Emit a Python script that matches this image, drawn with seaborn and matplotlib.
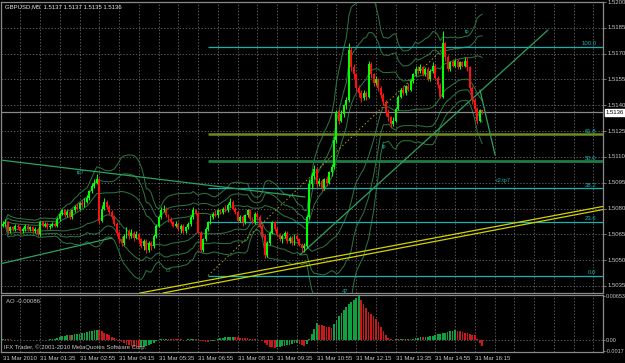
import numpy as np
import pandas as pd
import matplotlib
matplotlib.use("Agg")
import matplotlib.pyplot as plt
import matplotlib.transforms as mtransforms
import seaborn as sns

# ---------------- data (GBPUSD M5, 31 Mar 2010, 00:20 .. 16:30) ----------------
open_ = [1.5070,1.5071,1.5072,1.5067,1.5069,1.5068,1.5070,1.5069,1.5067,1.5068,
         1.5070,1.5068,1.5069,1.5067,1.5068,1.5065,1.5072,1.5070,1.5071,1.5069,
         1.5070,1.5071,1.5070,1.5074,1.5077,1.5079,1.5076,1.5078,1.5075,1.5079,
         1.5081,1.5080,1.5083,1.5082,1.5084,1.5086,1.5090,1.5093,1.5095,1.5097,
         1.5073,1.5080,1.5084,1.5081,1.5078,1.5075,1.5071,1.5066,1.5062,1.5060,
         1.5064,1.5067,1.5064,1.5066,1.5063,1.5065,1.5062,1.5058,1.5061,1.5056,
         1.5060,1.5058,1.5064,1.5070,1.5075,1.5079,1.5080,1.5076,1.5074,1.5072,
         1.5070,1.5071,1.5068,1.5070,1.5067,1.5069,1.5071,1.5075,1.5079,1.5077,
         1.5066,1.5056,1.5062,1.5068,1.5072,1.5075,1.5077,1.5076,1.5079,1.5078,
         1.5080,1.5079,1.5082,1.5084,1.5080,1.5078,1.5073,1.5075,1.5072,1.5076,
         1.5079,1.5074,1.5072,1.5077,1.5075,1.5070,1.5064,1.5053,1.5060,1.5066,
         1.5072,1.5068,1.5065,1.5062,1.5064,1.5066,1.5061,1.5063,1.5060,1.5064,
         1.5062,1.5059,1.5057,1.5058,1.5075,1.5094,1.5099,1.5103,1.5094,1.5096,
         1.5092,1.5097,1.5095,1.5101,1.5104,1.5120,1.5136,1.5131,1.5135,1.5140,
         1.5143,1.5172,1.5162,1.5158,1.5150,1.5147,1.5144,1.5147,1.5145,1.5164,
         1.5158,1.5153,1.5155,1.5150,1.5146,1.5142,1.5136,1.5133,1.5129,1.5131,
         1.5138,1.5145,1.5149,1.5147,1.5151,1.5149,1.5154,1.5158,1.5161,1.5160,
         1.5162,1.5158,1.5161,1.5155,1.5160,1.5163,1.5156,1.5152,1.5145,1.5176,
         1.5168,1.5161,1.5165,1.5163,1.5166,1.5162,1.5165,1.5163,1.5166,1.5162,
         1.5150,1.5143,1.5138,1.5131,1.5137]
high = [1.5073,1.5074,1.5073,1.5070,1.5070,1.5071,1.5071,1.5070,1.5069,1.5071,
        1.5071,1.5070,1.5070,1.5069,1.5069,1.5073,1.5073,1.5072,1.5072,1.5071,
        1.5072,1.5072,1.5075,1.5078,1.5080,1.5080,1.5079,1.5079,1.5080,1.5082,
        1.5083,1.5084,1.5085,1.5086,1.5088,1.5091,1.5095,1.5097,1.5100,1.5098,
        1.5082,1.5086,1.5085,1.5082,1.5079,1.5076,1.5072,1.5067,1.5064,1.5065,
        1.5069,1.5068,1.5068,1.5067,1.5067,1.5066,1.5063,1.5062,1.5062,1.5061,
        1.5061,1.5065,1.5071,1.5076,1.5081,1.5082,1.5081,1.5077,1.5075,1.5073,
        1.5073,1.5072,1.5071,1.5071,1.5070,1.5072,1.5076,1.5081,1.5080,1.5078,
        1.5067,1.5063,1.5069,1.5073,1.5076,1.5078,1.5079,1.5080,1.5080,1.5081,
        1.5082,1.5083,1.5086,1.5085,1.5081,1.5079,1.5076,1.5076,1.5077,1.5080,
        1.5080,1.5075,1.5078,1.5078,1.5076,1.5071,1.5065,1.5061,1.5067,1.5073,
        1.5073,1.5069,1.5066,1.5065,1.5067,1.5067,1.5064,1.5064,1.5065,1.5065,
        1.5063,1.5060,1.5060,1.5076,1.5097,1.5101,1.5105,1.5104,1.5098,1.5097,
        1.5098,1.5099,1.5102,1.5106,1.5122,1.5137,1.5138,1.5137,1.5141,1.5145,
        1.5176,1.5174,1.5164,1.5159,1.5152,1.5149,1.5149,1.5148,1.5166,1.5165,
        1.5159,1.5157,1.5156,1.5151,1.5147,1.5143,1.5138,1.5134,1.5133,1.5139,
        1.5146,1.5150,1.5151,1.5152,1.5153,1.5155,1.5159,1.5163,1.5163,1.5164,
        1.5163,1.5162,1.5162,1.5161,1.5165,1.5164,1.5157,1.5153,1.5183,1.5177,
        1.5169,1.5166,1.5167,1.5167,1.5167,1.5166,1.5166,1.5168,1.5168,1.5163,
        1.5151,1.5144,1.5139,1.5138,1.5137]
low = [1.5069,1.5070,1.5066,1.5066,1.5067,1.5067,1.5068,1.5066,1.5066,1.5067,
       1.5067,1.5067,1.5066,1.5066,1.5064,1.5064,1.5069,1.5069,1.5068,1.5068,
       1.5069,1.5069,1.5069,1.5073,1.5076,1.5075,1.5075,1.5074,1.5074,1.5078,
       1.5079,1.5079,1.5081,1.5081,1.5083,1.5085,1.5089,1.5092,1.5094,1.5071,
       1.5072,1.5079,1.5080,1.5077,1.5074,1.5070,1.5064,1.5060,1.5058,1.5059,
       1.5063,1.5062,1.5063,1.5061,1.5062,1.5060,1.5057,1.5056,1.5054,1.5055,
       1.5056,1.5057,1.5063,1.5069,1.5074,1.5078,1.5075,1.5072,1.5071,1.5069,
       1.5069,1.5067,1.5066,1.5066,1.5066,1.5068,1.5070,1.5074,1.5076,1.5065,
       1.5055,1.5055,1.5061,1.5067,1.5071,1.5074,1.5075,1.5075,1.5077,1.5077,
       1.5078,1.5078,1.5081,1.5079,1.5077,1.5072,1.5072,1.5070,1.5071,1.5075,
       1.5073,1.5071,1.5071,1.5074,1.5069,1.5063,1.5051,1.5052,1.5059,1.5065,
       1.5067,1.5064,1.5061,1.5060,1.5063,1.5060,1.5060,1.5059,1.5059,1.5061,
       1.5058,1.5055,1.5055,1.5057,1.5074,1.5092,1.5097,1.5092,1.5093,1.5090,
       1.5091,1.5093,1.5094,1.5099,1.5103,1.5118,1.5129,1.5130,1.5133,1.5138,
       1.5142,1.5160,1.5155,1.5148,1.5145,1.5142,1.5143,1.5143,1.5144,1.5156,
       1.5151,1.5152,1.5148,1.5144,1.5140,1.5134,1.5131,1.5127,1.5128,1.5130,
       1.5137,1.5144,1.5146,1.5146,1.5148,1.5148,1.5153,1.5157,1.5158,1.5159,
       1.5157,1.5157,1.5154,1.5154,1.5159,1.5155,1.5150,1.5144,1.5144,1.5166,
       1.5160,1.5160,1.5162,1.5162,1.5161,1.5161,1.5162,1.5162,1.5160,1.5148,
       1.5141,1.5136,1.5129,1.5130,1.5135]
close = [1.5071,1.5072,1.5067,1.5069,1.5068,1.5070,1.5069,1.5067,1.5068,1.5070,
         1.5068,1.5069,1.5067,1.5068,1.5065,1.5072,1.5070,1.5071,1.5069,1.5070,
         1.5071,1.5070,1.5074,1.5077,1.5079,1.5076,1.5078,1.5075,1.5079,1.5081,
         1.5080,1.5083,1.5082,1.5084,1.5086,1.5090,1.5093,1.5095,1.5097,1.5073,
         1.5080,1.5084,1.5081,1.5078,1.5075,1.5071,1.5066,1.5062,1.5060,1.5064,
         1.5067,1.5064,1.5066,1.5063,1.5065,1.5062,1.5058,1.5061,1.5056,1.5060,
         1.5058,1.5064,1.5070,1.5075,1.5079,1.5080,1.5076,1.5074,1.5072,1.5070,
         1.5071,1.5068,1.5070,1.5067,1.5069,1.5071,1.5075,1.5079,1.5077,1.5066,
         1.5056,1.5062,1.5068,1.5072,1.5075,1.5077,1.5076,1.5079,1.5078,1.5080,
         1.5079,1.5082,1.5084,1.5080,1.5078,1.5073,1.5075,1.5072,1.5076,1.5079,
         1.5074,1.5072,1.5077,1.5075,1.5070,1.5064,1.5053,1.5060,1.5066,1.5072,
         1.5068,1.5065,1.5062,1.5064,1.5066,1.5061,1.5063,1.5060,1.5064,1.5062,
         1.5059,1.5057,1.5058,1.5075,1.5094,1.5099,1.5103,1.5094,1.5096,1.5092,
         1.5097,1.5095,1.5101,1.5104,1.5120,1.5136,1.5131,1.5135,1.5140,1.5143,
         1.5172,1.5162,1.5158,1.5150,1.5147,1.5144,1.5147,1.5145,1.5164,1.5158,
         1.5153,1.5155,1.5150,1.5146,1.5142,1.5136,1.5133,1.5129,1.5131,1.5138,
         1.5145,1.5149,1.5147,1.5151,1.5149,1.5154,1.5158,1.5161,1.5160,1.5162,
         1.5158,1.5161,1.5155,1.5160,1.5163,1.5156,1.5152,1.5145,1.5176,1.5168,
         1.5161,1.5165,1.5163,1.5166,1.5162,1.5165,1.5163,1.5166,1.5162,1.5150,
         1.5143,1.5138,1.5131,1.5137,1.5136]
ao_values = [0.00010,0.00012,0.00010,0.00008,0.00005,0.00003,0.00004,0.00006,0.00005,0.00003,
             0.00001,-0.00002,-0.00001,0.00002,0.00001,0.00004,0.00006,0.00005,0.00007,0.00009,
             0.00015,0.00022,0.00030,0.00042,0.00055,0.00062,0.00070,0.00068,0.00075,0.00082,
             0.00090,0.00095,0.00100,0.00108,0.00120,0.00128,0.00138,0.00145,0.00150,0.00142,
             0.00128,0.00110,0.00090,0.00070,0.00050,0.00030,0.00010,-0.00010,-0.00030,-0.00050,
             -0.00070,-0.00080,-0.00090,-0.00100,-0.00105,-0.00110,-0.00105,-0.00100,-0.00095,-0.00080,
             -0.00060,-0.00040,-0.00020,0.00000,0.00010,0.00018,0.00022,0.00020,0.00018,0.00016,
             0.00012,0.00010,0.00008,0.00005,0.00006,0.00008,0.00010,0.00015,0.00014,0.00006,
             -0.00010,-0.00020,-0.00028,-0.00030,-0.00022,-0.00010,0.00005,0.00015,0.00025,0.00032,
             0.00038,0.00045,0.00050,0.00052,0.00048,0.00040,0.00035,0.00030,0.00028,0.00025,
             0.00020,0.00012,0.00010,0.00005,0.00000,-0.00020,-0.00050,-0.00080,-0.00100,-0.00110,
             -0.00120,-0.00110,-0.00100,-0.00095,-0.00090,-0.00080,-0.00070,-0.00060,-0.00050,-0.00040,
             -0.00060,-0.00080,-0.00090,-0.00060,0.00020,0.00090,0.00170,0.00250,0.00230,0.00220,
             0.00210,0.00200,0.00190,0.00180,0.00240,0.00300,0.00350,0.00400,0.00450,0.00490,
             0.00530,0.00560,0.00590,0.00620,0.00653,0.00600,0.00540,0.00470,0.00410,0.00390,
             0.00350,0.00310,0.00260,0.00200,0.00140,0.00080,0.00030,0.00010,0.00005,0.00010,
             0.00008,0.00012,0.00010,0.00015,0.00020,0.00018,0.00022,0.00030,0.00035,0.00040,
             0.00038,0.00045,0.00050,0.00055,0.00060,0.00070,0.00085,0.00090,0.00100,0.00110,
             0.00120,0.00130,0.00140,0.00150,0.00140,0.00130,0.00120,0.00110,0.00100,0.00090,
             0.00080,0.00070,0.00020,-0.00040,-0.00086]

price_ticks = [1.5200, 1.5185, 1.5170, 1.5155, 1.5140, 1.5125, 1.5110, 1.5095,
               1.5080, 1.5065, 1.5050, 1.5035]
x_tick_bars = [0, 15, 31, 47, 63, 79, 95, 111, 127, 143, 159, 175, 191]
x_tick_labels = ["31 Mar 2010", "31 Mar 01:35", "31 Mar 02:55", "31 Mar 04:15",
                 "31 Mar 05:35", "31 Mar 06:55", "31 Mar 08:15", "31 Mar 09:35",
                 "31 Mar 10:55", "31 Mar 12:15", "31 Mar 13:35", "31 Mar 14:55",
                 "31 Mar 16:15"]
grid_bars = [7, 15, 23, 31, 39, 47, 55, 63, 71, 79, 87, 95, 103, 111, 119, 127, 135,
             143, 151, 159, 167, 175, 183, 191, 199, 207, 215, 223, 231, 239]

fib_levels = [0.0, 23.6, 38.2, 50.0, 61.8, 100.0]
fib_low, fib_high = 1.5041, 1.5174
fib_start_bar, fib_end_bar = 83, 179
bid_price = 1.5136
bb_period = 20
bb_devs = [1, 2, 3]

# drawn objects: (bar, price) anchors
yellow_line_1 = [(55.5, 1.50309), (242.9, 1.50812)]
yellow_line_2 = [(64.8, 1.50309), (242.9, 1.50794)]
green_line_1 = [(-1.2, 1.51082), (122.3, 1.50867)]
green_line_2 = [(-1.2, 1.50478), (44.1, 1.50629)]
green_line_3 = [(120.2, 1.50530), (220.6, 1.51837)]
green_line_4 = [(193.1, 1.51489), (199.2, 1.51111)]
note_texts = ["tp7", "c7", "tp", "tp", "c2.tp7", "47"]
note_bars = [31.5, 67.0, 154.5, 188.0, 202.5, 138.5]
note_prices = [1.5101, 1.5044, 1.5116, 1.5183, 1.5096, 1.5032]

# ---------------- styling ----------------
sns.set_style("dark")
plt.rcParams["font.family"] = ["Liberation Sans", "DejaVu Sans"]
FS = 4.3
TXT = "#c8c8c8"
GRID = "#7a7a7a"
CYAN = "#14b4b4"

n = len(close)
idx = np.arange(n)
o = np.array(open_); h = np.array(high); l = np.array(low); c = np.array(close)

fig = plt.figure(figsize=(6.25, 3.63), dpi=100)
fig.patch.set_facecolor("black")
W = 602 / 625
ax = fig.add_axes([1 / 625, 1 - 293 / 363, W, 291 / 363])
ax2 = fig.add_axes([1 / 625, 1 - 352 / 363, W, 57 / 363])

for a in (ax, ax2):
    a.set_facecolor("black")
    for s in a.spines.values():
        s.set_color("#8a8a8a")
        s.set_linewidth(0.9)
    a.set_xlim(-0.8, 242.9)
    for gb in grid_bars:
        a.axvline(gb, color=GRID, lw=0.5, ls=(0, (2, 2.5)), zorder=0)

ax.set_ylim(1.50309, 1.5200)
for p in price_ticks[1:]:
    ax.axhline(p, color=GRID, lw=0.5, ls=(0, (2, 2.5)), zorder=0)

# Bollinger style bands
s = pd.Series(close)
mid = s.rolling(bb_period, min_periods=2).mean()
sd = s.rolling(bb_period, min_periods=2).std(ddof=0)
for k in bb_devs:
    for sign in (1, -1):
        band = (mid + sign * k * sd).values
        sns.lineplot(x=idx, y=band, ax=ax, color="#2c7040", linewidth=0.75,
                     legend=False, zorder=2)

# fibonacci
fib_prices = [fib_low + (fib_high - fib_low) * lv / 100 for lv in fib_levels]
fib_colors = [CYAN, CYAN, CYAN, "#1f7a46", "#6f8a22", CYAN]
fib_widths = [0.9, 0.9, 0.9, 2.0, 1.8, 0.9]
for lv, fp, fc, fw in zip(fib_levels, fib_prices, fib_colors, fib_widths):
    ax.hlines(fp, fib_start_bar, 243, color=fc, lw=fw, zorder=3)
    ax.text(240.3, fp + 0.00003, f"{lv:.1f}", color=CYAN, fontsize=FS,
            ha="right", va="bottom", zorder=6)
ax.plot([fib_start_bar, fib_end_bar], [fib_low, fib_high], color="#b8a400",
        lw=0.7, ls=(0, (1.5, 2.5)), zorder=3)

# trend lines
for ln in (yellow_line_1, yellow_line_2):
    ax.plot([ln[0][0], ln[1][0]], [ln[0][1], ln[1][1]], color="#d2d200", lw=0.9, zorder=4)
for ln in (green_line_1, green_line_2, green_line_3, green_line_4):
    ax.plot([ln[0][0], ln[1][0]], [ln[0][1], ln[1][1]], color="#2ea060", lw=0.9, zorder=4)

# bid line
ax.axhline(bid_price, color="#8a8a8a", lw=0.9, zorder=3)

# candles
up = c >= o
col = np.where(up, "#00ff00", "#ff1010")
ax.vlines(idx, l, h, colors=col, lw=0.75, zorder=5)
body = np.maximum(np.abs(c - o), 0.00003)
ax.bar(idx, body, bottom=np.minimum(o, c), width=0.78, color=col, linewidth=0, zorder=5)

for t, b, p in zip(note_texts, note_bars, note_prices):
    ax.text(b, p, t, color=CYAN if t != "c7" else "#2ea060", fontsize=FS - 0.3,
            ha="center", va="center", zorder=6)

# right price axis
ax.yaxis.tick_right()
ax.set_yticks(price_ticks)
ax.set_yticklabels([f"{p:.4f}" for p in price_ticks])
ax.tick_params(axis="y", colors="#8a8a8a", labelcolor=TXT, labelsize=FS,
               length=2, width=0.6, pad=1)
ax.set_xticks([])
for lab in ax.get_yticklabels():
    lab.set_verticalalignment("center")
trans = mtransforms.blended_transform_factory(ax.transAxes, ax.transData)
ax.text(1.0045, bid_price, f"{bid_price:.4f}", transform=trans, fontsize=FS,
        color="black", va="center", ha="left",
        bbox=dict(boxstyle="square,pad=0.15", fc="white", ec="white"), zorder=7,
        clip_on=False)

fig.text(5 / 625, 1 - 7 / 363, "GBPUSD,M5  1.5137 1.5137 1.5135 1.5136",
         color="#e6e6e6", fontsize=FS, va="center", ha="left")

# AO panel
ao = np.array(ao_values)
ao_col = ["#0fa040" if i == 0 or ao[i] > ao[i - 1] else "#c81818" for i in range(n)]
ax2.bar(idx, ao, width=0.7, color=ao_col, linewidth=0, zorder=3)
ax2.set_ylim(-0.00178, 0.00668)
ax2.axhline(0, color=GRID, lw=0.5, ls=(0, (2, 2.5)), zorder=0)
ax2.yaxis.tick_right()
ax2.set_yticks([0.00653, 0.0, -0.0017])
ax2.set_yticklabels(["0.00653", "0.00", "-0.0017"])
ax2.tick_params(axis="y", colors="#8a8a8a", labelcolor=TXT, labelsize=FS - 0.4,
                length=1.5, width=0.6, pad=0.5)
ax2.set_xticks(x_tick_bars)
ax2.set_xticklabels(x_tick_labels)
ax2.tick_params(axis="x", colors="#8a8a8a", labelcolor=TXT, labelsize=FS,
                length=2, width=0.6, pad=0.8)
for lab in ax2.get_xticklabels():
    lab.set_horizontalalignment("left")
ax2.text(0.008, 0.93, "AO -0.00086", transform=ax2.transAxes, color=TXT,
         fontsize=FS, va="top", ha="left")
ax2.text(0.005, 0.09, "IFX Trader, \u00a9 2001-2010 MetaQuotes Software Corp.",
         transform=ax2.transAxes, color=TXT, fontsize=FS, va="center", ha="left")

fig.savefig("out.png", dpi=100, facecolor="black")
